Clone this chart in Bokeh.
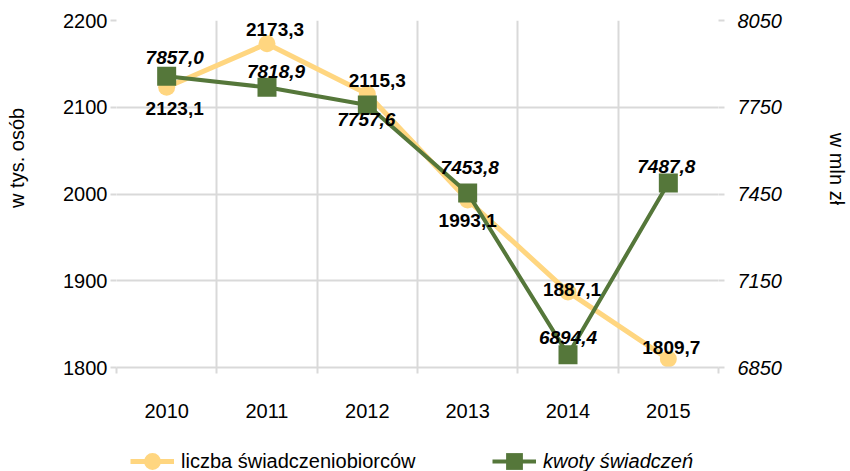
from bokeh.plotting import figure
from bokeh.layouts import column
from bokeh.models import (Range1d, LinearAxis, FixedTicker, Legend, LegendItem, ColumnDataSource)
from bokeh.core.properties import value
from bokeh.embed import file_html
from bokeh.resources import INLINE

years = ["2010", "2011", "2012", "2013", "2014", "2015"]
liczba = [2123.1, 2173.3, 2115.3, 1993.1, 1887.1, 1809.7]
kwoty = [7857.0, 7818.9, 7757.6, 7453.8, 6894.4, 7487.8]
left_ticks = [1800, 1900, 2000, 2100, 2200]
right_ticks = [6850, 7150, 7450, 7750, 8050]
left_title = "w tys. osób"
right_title = "w mln zł"

# label placement (screen px offsets) - styling only
liczba_dx = [8, 8, 10, 0, 4, 3]
liczba_dy = [21, -14, -13, 21, -2, -12]
kwoty_dx = [8, 9, -1, 2, 0, -2]
kwoty_dy = [-19, -16, 14, -25, -17, -17]

YELLOW = "#FFD680"
GREEN = "#55773A"
GRID = "#D9D9D9"
FONT = "Liberation Sans"
FS = "20px"
NBSP = "\u00a0"

def fmt(v):
    return f"{v:.1f}".replace(".", ",")

x = [i + 0.5 for i in range(len(years))]

src_l = ColumnDataSource(dict(x=x, y=liczba, t=[fmt(v) for v in liczba], dx=liczba_dx, dy=liczba_dy))
src_k = ColumnDataSource(dict(x=x, y=kwoty, t=[fmt(v) for v in kwoty], dx=kwoty_dx, dy=kwoty_dy))

p = figure(frame_width=602, frame_height=347,
           x_range=Range1d(0, len(years)), y_range=Range1d(left_ticks[0], left_ticks[-1]),
           output_backend="svg", toolbar_location=None,
           min_border_left=116, min_border_right=132, min_border_top=20, min_border_bottom=62)
p.outline_line_color = None
p.extra_y_ranges = {"right": Range1d(right_ticks[0], right_ticks[-1])}

# grids
p.xgrid.ticker = FixedTicker(ticks=list(range(len(years) + 1)))
p.xgrid.grid_line_color = GRID
p.xgrid.grid_line_width = 2
p.ygrid.grid_line_color = GRID
p.ygrid.grid_line_width = 2

# x axis
xa = p.xaxis[0]
xa.ticker = FixedTicker(ticks=x, minor_ticks=list(range(len(years) + 1)))
xa.major_label_overrides = {xi: y for xi, y in zip(x, years)}
xa.major_tick_line_color = None
xa.minor_tick_line_color = GRID
xa.minor_tick_line_width = 2
xa.minor_tick_out = 6
xa.minor_tick_in = 0
xa.axis_line_color = GRID
xa.axis_line_width = 2
xa.major_label_standoff = 30
xa.major_label_text_font = FONT
xa.major_label_text_font_size = FS
xa.major_label_text_color = "#000000"

# left axis (title padded so it sits a little above the centre, as in the original)
ya = p.yaxis[0]
ya.ticker = FixedTicker(ticks=left_ticks)
ya.axis_line_color = None
ya.major_tick_line_color = GRID
ya.major_tick_line_width = 2
ya.major_tick_out = 6
ya.major_tick_in = 0
ya.minor_tick_line_color = None
ya.major_label_standoff = 3
ya.major_label_text_font = FONT
ya.major_label_text_font_size = FS
ya.major_label_text_color = "#000000"
ya.axis_label = NBSP * 13 + left_title
ya.axis_label_text_font = FONT
ya.axis_label_text_font_size = FS
ya.axis_label_text_font_style = "normal"
ya.axis_label_text_color = "#000000"
ya.axis_label_standoff = 32

# right axis
ra = LinearAxis(y_range_name="right", ticker=FixedTicker(ticks=right_ticks))
ra.axis_line_color = None
ra.major_tick_line_color = GRID
ra.major_tick_line_width = 2
ra.major_tick_out = 6
ra.major_tick_in = 0
ra.minor_tick_line_color = None
ra.major_label_standoff = 13
ra.major_label_text_font = FONT
ra.major_label_text_font_size = FS
ra.major_label_text_font_style = "italic"
ra.major_label_text_color = "#000000"
ra.axis_label = right_title + NBSP * 9
ra.axis_label_text_font = FONT
ra.axis_label_text_font_size = FS
ra.axis_label_text_font_style = "normal"
ra.axis_label_text_color = "#000000"
ra.axis_label_standoff = 41
p.add_layout(ra, "right")

# series
line_kw_l = dict(line_color=YELLOW, line_width=5)
mark_kw_l = dict(marker="circle", size=17, fill_color=YELLOW, line_color=None)
line_kw_k = dict(line_color=GREEN, line_width=4)
mark_kw_k = dict(marker="square", size=19, fill_color=GREEN, line_color=None)

p.line("x", "y", source=src_l, **line_kw_l)
p.scatter("x", "y", source=src_l, **mark_kw_l)
p.line("x", "y", source=src_k, y_range_name="right", **line_kw_k)
p.scatter("x", "y", source=src_k, y_range_name="right", **mark_kw_k)

p.text("x", "y", text="t", source=src_l, x_offset="dx", y_offset="dy",
       text_font=value(FONT), text_font_size="19px", text_font_style="bold",
       text_align="center", text_baseline="middle", text_color="#000000")
p.text("x", "y", text="t", source=src_k, x_offset="dx", y_offset="dy", y_range_name="right",
       text_font=value(FONT), text_font_size="19px", text_font_style="bold italic",
       text_align="center", text_baseline="middle", text_color="#000000")

# legend strip (series glyphs reused, drawn outside its view)
lf = figure(width=850, height=42, x_range=Range1d(0, 1), y_range=Range1d(0, 1),
            output_backend="svg", toolbar_location=None, x_axis_type=None, y_axis_type=None,
            min_border=0)
lf.outline_line_color = None
lf.xgrid.visible = False
lf.ygrid.visible = False
ll1 = lf.line("x", "y", source=src_l, **line_kw_l)
ls1 = lf.scatter("x", "y", source=src_l, **mark_kw_l)
ll2 = lf.line("x", "y", source=src_k, **line_kw_k)
ls2 = lf.scatter("x", "y", source=src_k, **mark_kw_k)

def make_legend(label, rends, xloc, style):
    lg = Legend(items=[LegendItem(label=label, renderers=rends)], location=(xloc, -11),
                orientation="horizontal", glyph_width=44, glyph_height=42,
                label_text_font=FONT, label_text_font_size=FS, label_text_font_style=style,
                label_text_color="#000000", label_standoff=7, label_height=20,
                padding=0, margin=0, spacing=0, border_line_color=None,
                background_fill_alpha=0)
    lf.add_layout(lg, "center")

make_legend("liczba świadczeniobiorców", [ll1, ls1], 14, "normal")
make_legend("kwoty świadczeń", [ll2, ls2], 376, "italic")

layout = column(p, lf, spacing=0)
open("out.html", "w").write(file_html(layout, INLINE))
